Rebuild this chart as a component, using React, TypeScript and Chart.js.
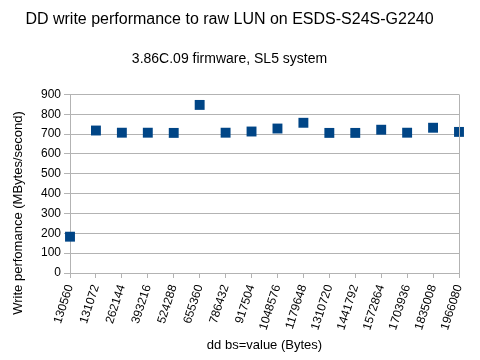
import React, { useEffect, useRef } from "react";
import { Chart, registerables } from "chart.js";

Chart.register(...registerables);

const blockSizes = [
  "130560", "131072", "262144", "393216", "524288", "655360", "786432", "917504",
  "1048576", "1179648", "1310720", "1441792", "1572864", "1703936", "1835008", "1966080",
];
const writeMBps = [183, 718, 707, 707, 706, 847, 707, 713, 728, 757, 706, 706, 722, 707, 732, 711];

const yMin = 0;
const yMax = 900;
const yStep = 100;

const titleText = "DD write performance to raw LUN on ESDS-S24S-G2240";
const subtitleText = "3.86C.09 firmware, SL5 system";
const xTitle = "dd bs=value (Bytes)";
const yTitle = "Write perfomance (MBytes/second)";

const gridColor = "#b3b3b3";
const pointColor = "#004586";
const fontFamily = "'Liberation Sans', Arial, sans-serif";

const decorations = {
  id: "decorations",
  afterDraw(chart: any) {
    const { ctx, chartArea } = chart;
    ctx.save();
    ctx.strokeStyle = gridColor;
    ctx.lineWidth = 1;
    ctx.beginPath();
    const x = Math.round(chartArea.right) + 0.5;
    ctx.moveTo(x, chartArea.top);
    ctx.lineTo(x, chartArea.bottom);
    ctx.stroke();
    // y-axis title, centred as in the reference
    ctx.translate(18, 213);
    ctx.rotate(-Math.PI / 2);
    ctx.fillStyle = "#000";
    ctx.font = `13px ${fontFamily}`;
    ctx.textAlign = "center";
    ctx.textBaseline = "middle";
    ctx.fillText(yTitle, 0, 0);
    ctx.restore();
  },
};

export default function App() {
  const ref = useRef<HTMLCanvasElement | null>(null);
  useEffect(() => {
    document.body.style.margin = "0";
    const chart = new Chart(ref.current!, {
      type: "line",
      data: {
        labels: blockSizes,
        datasets: [
          {
            data: writeMBps,
            showLine: false,
            pointStyle: "rect",
            pointRadius: 7,
            pointHoverRadius: 7,
            pointBackgroundColor: pointColor,
            pointBorderColor: pointColor,
            pointBorderWidth: 0,
            clip: false as any,
          },
        ],
      },
      options: {
        animation: false,
        responsive: false,
        maintainAspectRatio: false,
        layout: { padding: { left: 0, right: 21, top: 0, bottom: 0 } },
        plugins: {
          legend: { display: false },
          tooltip: { enabled: false },
          title: {
            display: true,
            text: titleText,
            color: "#000",
            font: { family: fontFamily, size: 16, weight: "normal" as any },
            padding: { top: 10, bottom: 22 },
          },
          subtitle: {
            display: true,
            text: subtitleText,
            color: "#000",
            font: { family: fontFamily, size: 14, weight: "normal" as any },
            padding: { top: 0, bottom: 26.4 },
          },
        },
        scales: {
          x: {
            offset: false,
            afterFit: (s: any) => { s.height = 87; },
            grid: { display: true, drawOnChartArea: false, drawTicks: true, tickLength: 5, color: gridColor },
            border: { color: gridColor },
            ticks: {
              color: "#000",
              minRotation: 72,
              maxRotation: 72,
              autoSkip: false,
              font: { family: fontFamily, size: 12 },
              padding: 5,
            },
            title: {
              display: true,
              text: xTitle,
              color: "#000",
              font: { family: fontFamily, size: 13 },
              padding: { top: 4, bottom: 7 },
            },
          },
          y: {
            min: yMin,
            max: yMax,
            afterFit: (s: any) => { s.width = 70; },
            grid: { color: gridColor, tickLength: 6 },
            border: { color: gridColor },
            ticks: {
              stepSize: yStep,
              color: "#000",
              font: { family: fontFamily, size: 12 },
              padding: 3,
            },
            title: { display: false },
          },
        },
      },
      plugins: [decorations],
    });
    return () => chart.destroy();
  }, []);
  return (
    <div style={{ position: "absolute", left: 0, top: 0, width: 480, height: 360, background: "#fff" }}>
      <canvas ref={ref} width={480} height={360} style={{ width: 480, height: 360 }} />
    </div>
  );
}
